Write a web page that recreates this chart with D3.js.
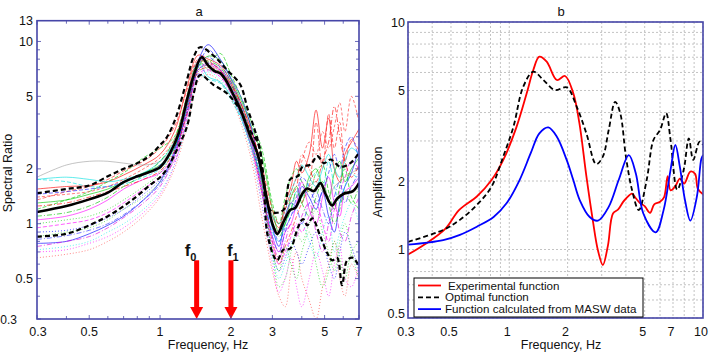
<!DOCTYPE html>
<html><head><meta charset="utf-8">
<script src="https://cdn.jsdelivr.net/npm/d3@7"></script>
<style>
body{margin:0;background:#fff}
svg{display:block}
text{font-family:"Liberation Sans",Arial,sans-serif;fill:#111}
</style>
</head><body>
<svg id="c" width="720" height="359"></svg>
<script>
// ---------------- Panel a data ----------------
const aYLabels = [0.3, 0.5, 1, 2, 5, 10, 13];
const aXLabels = [0.3, 0.5, 1, 2, 3, 5, 7];
const gridA = [0.3,0.4,0.5,0.6,0.7,0.85,1.0,1.15,1.3,1.45,1.6,1.8,2.0,2.2,2.45,2.7,3.0,3.2,3.4,3.6,3.8,4.0,4.3,4.6,4.9,5.2,5.5,5.8,6.1,6.5,7.0];
const c1  = [1.55,1.6,1.62,1.7,1.85,2.1,2.4,3.2,5.6,8.4,8.0,7.4,6.0,4.6,3.2,2.0,1.1,0.95,1.3,1.6,2.2,1.9,2.4,4.2,2.6,3.8,2.0,1.7,2.4,2.8,3.3];
const c2  = [1.3,1.35,1.45,1.55,1.7,1.9,2.1,2.6,4.4,7.2,8.3,7.9,6.2,4.8,3.4,2.4,1.2,0.9,1.0,1.4,1.6,1.3,1.8,2.0,1.6,1.4,1.9,2.2,1.7,2.0,2.3];
const c3  = [0.78,0.8,0.88,0.98,1.1,1.35,1.7,2.5,4.6,7.8,9.6,8.0,6.3,5.0,3.3,1.8,0.95,0.75,1.1,1.3,1.25,1.6,1.4,1.2,1.5,1.1,0.9,1.3,1.6,1.9,2.6];
const c4  = [1.05,1.1,1.2,1.35,1.55,1.75,1.9,2.4,4.2,7.0,7.4,6.9,5.6,4.2,2.8,1.6,0.85,0.7,0.9,1.0,1.3,1.7,1.2,1.0,1.4,1.8,1.3,1.1,1.5,1.6,1.8];
const c5  = [1.75,1.7,1.6,1.6,1.65,1.8,2.0,2.6,4.2,6.6,6.2,5.9,4.8,3.8,2.6,1.7,0.9,0.8,1.0,1.2,1.5,1.4,1.7,1.9,1.6,2.2,1.6,1.3,1.6,1.9,1.7];
const c6  = [1.35,1.5,1.6,1.75,1.95,2.2,2.6,3.4,5.4,8.0,7.8,7.0,5.4,4.0,2.6,1.5,0.8,0.6,0.75,0.9,1.1,1.3,1.6,3.6,2.0,4.0,2.6,3.6,2.2,2.9,2.5];
const c7  = [1.2,1.35,1.5,1.7,1.9,2.3,2.6,3.0,4.8,7.4,7.6,8.6,6.6,5.0,3.6,2.6,1.3,1.0,1.4,1.8,2.0,1.7,1.5,1.9,2.1,1.5,1.2,1.6,2.0,1.4,1.2];
const c8  = [1.45,1.5,1.55,1.6,1.7,1.85,2.1,2.6,4.0,7.2,9.0,7.6,6.0,4.6,3.0,1.9,1.0,0.8,0.95,1.1,1.4,1.8,1.6,1.3,1.5,1.9,2.4,2.0,2.6,3.0,2.2];
const c9  = [0.95,1.0,1.05,1.15,1.3,1.55,1.8,2.2,3.8,6.6,7.0,6.4,5.2,4.0,2.6,1.5,0.75,0.6,0.7,0.85,1.0,0.9,1.1,1.3,1.0,0.8,1.2,1.5,1.8,2.2,2.0];
const c10 = [0.72,0.75,0.8,0.9,1.0,1.2,1.5,2.1,3.6,6.2,6.8,6.2,5.0,3.8,2.4,1.3,0.65,0.5,0.6,0.75,0.9,1.0,0.8,0.65,0.9,1.1,0.7,0.9,1.1,1.3,1.0];
const c11 = [0.65,0.68,0.72,0.8,0.9,1.1,1.4,2.0,3.4,6.0,6.6,6.0,4.9,3.6,2.2,1.1,0.55,0.4,0.35,0.55,0.7,0.5,0.38,0.3,0.45,0.6,0.8,0.5,0.4,0.6,0.5];
const c12 = [0.85,0.9,0.95,1.05,1.2,1.4,1.7,2.3,4.0,6.8,7.2,6.6,5.4,4.2,2.8,1.6,0.7,0.45,0.5,0.7,0.9,0.8,1.0,1.2,0.9,0.7,0.55,0.8,1.0,0.7,0.5];
const c13 = [0.75,0.8,0.85,0.95,1.08,1.3,1.6,2.3,4.3,7.0,7.6,7.0,5.6,4.3,2.8,1.6,0.8,0.65,0.8,1.0,0.85,1.1,1.3,0.9,0.7,1.0,1.3,0.9,0.8,1.1,1.4];
const c14 = [0.82,0.86,0.92,1.0,1.12,1.35,1.65,2.4,4.5,7.4,8.2,7.2,5.8,4.4,2.9,1.7,0.85,0.7,0.9,1.1,1.2,1.0,1.3,1.5,1.2,1.0,1.4,1.7,1.3,1.6,1.9];
const c15 = [1.8,2.1,2.2,2.2,2.15,2.1,2.2,2.7,4.6,7.8,7.0,6.6,5.2,4.0,2.7,1.7,1.0,0.9,1.1,1.3,1.4,1.5,1.6,1.7,1.5,1.4,1.6,1.7,1.8,1.9,2.0];
const c16 = [1.75,1.8,1.75,1.7,1.75,1.9,2.2,2.8,4.8,7.6,6.4,6.0,5.0,3.9,2.6,1.8,1.1,1.0,1.2,1.5,1.8,2.1,1.8,1.6,2.0,2.4,2.0,1.8,2.2,2.6,2.4];
const c17 = [1.25,1.3,1.4,1.5,1.6,1.75,1.95,2.5,4.0,6.8,7.2,6.8,5.8,4.6,3.2,2.1,1.2,1.0,1.2,1.4,1.6,2.4,2.0,1.7,2.2,2.8,4.4,3.0,2.2,1.8,2.1];
const c18 = [1.1,1.15,1.25,1.4,1.6,1.85,2.2,2.9,5.0,7.6,7.8,7.2,5.8,4.4,3.0,1.9,1.0,0.85,1.0,1.2,1.5,1.3,1.1,1.4,1.7,1.3,1.0,1.2,1.5,1.3,1.6];
const c19 = [0.7,0.72,0.78,0.85,0.95,1.15,1.45,2.1,3.9,6.4,6.9,6.4,5.2,3.9,2.5,1.3,0.6,0.42,0.5,0.65,0.45,0.35,0.5,0.7,0.55,0.4,0.6,0.75,0.5,0.45,0.6];
const c20 = [1.0,1.05,1.1,1.2,1.35,1.6,1.9,2.6,4.4,7.0,7.4,6.8,5.6,4.4,3.0,1.7,0.7,0.55,0.75,0.6,0.5,0.7,0.9,0.6,0.45,0.55,0.8,0.65,0.5,0.7,0.8];
const c21 = [1.4,1.45,1.5,1.6,1.75,2.0,2.3,2.9,5.0,7.8,7.6,7.0,5.8,4.4,3.0,1.9,1.0,0.9,1.2,1.5,1.8,2.2,2.8,2.4,3.2,2.6,3.4,4.6,3.2,5.0,3.6];
const c22 = [0.9,0.92,0.98,1.08,1.2,1.45,1.75,2.4,4.2,6.9,7.6,7.0,5.6,4.3,2.8,1.5,0.7,0.55,0.65,0.8,0.7,0.6,0.75,0.9,0.8,0.6,0.5,0.7,0.9,0.75,0.55];
const thinCurves = [c1,c2,c3,c4,c5,c6,c7,c8,c9,c10,c11,c12,c13,c14,c15,c16,c17,c18,c19,c20,c21,c22];

const meanF = [0.3,0.4,0.5,0.6,0.7,0.8,0.9,1.0,1.1,1.2,1.3,1.4,1.5,1.6,1.7,1.8,1.9,2.0,2.2,2.4,2.6,2.8,3.0,3.15,3.34,3.57,3.75,4.02,4.22,4.5,4.8,5.04,5.38,5.65,6.03,6.6,7.0];
const meanV = [1.16,1.25,1.36,1.48,1.69,1.82,1.92,2.04,2.43,3.14,4.77,6.7,8.2,7.4,6.9,6.7,6.14,5.42,4.2,3.1,2.4,1.5,1.0,0.88,1.02,1.19,1.22,1.46,1.56,1.51,1.67,1.46,1.26,1.37,1.46,1.51,1.67];
const upperF = [0.3,0.4,0.5,0.6,0.7,0.8,0.9,1.0,1.07,1.17,1.3,1.39,1.48,1.68,1.92,2.19,2.35,2.5,2.65,2.74,2.99,3.34,3.57,3.86,4.02,4.36,4.66,4.97,5.3,5.84,6.43,7.0];
const upperV = [1.47,1.55,1.62,1.82,2.0,2.15,2.35,2.7,2.99,3.86,6.14,8.25,9.3,8.4,7.0,5.8,4.3,3.4,2.6,1.8,1.16,1.19,1.75,1.83,2.05,2.11,2.35,2.15,2.25,2.05,2.15,2.45];
const lowerF = [0.3,0.4,0.5,0.6,0.7,0.8,0.9,1.0,1.07,1.14,1.3,1.39,1.48,1.68,1.92,2.19,2.35,2.6,2.74,2.87,3.14,3.34,3.57,3.86,4.05,4.22,4.43,4.8,5.13,5.38,5.65,5.93,6.23,6.6,7.0];
const lowerV = [0.85,0.88,0.98,1.1,1.25,1.42,1.62,1.8,2.0,2.33,3.4,5.19,6.54,5.8,5.2,4.2,3.4,2.78,1.9,0.85,0.63,0.72,0.73,0.96,1.06,0.98,1.07,0.85,0.69,0.63,0.65,0.46,0.63,0.65,0.58];

const arrowFreqs = [1.43, 2.0];
const arrowNames = ["0", "1"];
const arrowTopValue = 0.63;

// ---------------- Panel b data ----------------
const bYLabels = [0.5, 1, 2, 5, 10];
const bXLabels = [0.3, 0.5, 1, 2, 5, 7, 10];
const expF = [0.3,0.37,0.47,0.55,0.68,0.81,0.93,1.09,1.23,1.33,1.43,1.56,1.76,1.94,2.14,2.3,2.5,2.7,2.87,3.04,3.23,3.43,3.65,3.87,4.02,4.3,4.5,4.73,5.0,5.33,5.6,6.0,6.3,6.57,6.8,7.2,7.6,8.0,8.6,9.1,9.4,10];
const expV = [0.95,1.06,1.24,1.49,1.71,2.02,2.47,3.46,4.86,6.15,7.04,6.69,5.56,5.79,4.86,3.6,2.1,1.34,0.99,0.855,1.04,1.44,1.5,1.62,1.68,1.76,1.68,1.6,1.55,1.45,1.58,1.62,1.7,2.1,1.82,1.9,2.05,1.95,2.2,2.15,1.85,1.75];
const optF = [0.3,0.456,0.556,0.68,0.81,0.93,1.05,1.18,1.33,1.5,1.72,1.98,2.23,2.5,2.81,3.04,3.26,3.52,3.74,4.0,4.3,4.66,5.12,5.55,6.0,6.45,6.8,7.36,7.95,8.45,8.9,9.6,10];
const optV = [1.08,1.22,1.35,1.57,1.89,2.56,3.46,5.19,6.05,5.56,5.02,5.16,4.24,3.24,2.37,2.56,3.35,4.46,3.97,2.56,1.83,1.49,2.02,3.03,3.35,3.97,3.03,1.83,2.24,3.08,2.48,2.98,2.88];
const maswF = [0.3,0.456,0.556,0.68,0.83,0.97,1.13,1.29,1.43,1.59,1.76,1.98,2.14,2.31,2.6,2.87,3.26,3.67,4.14,4.5,4.92,5.7,6.26,6.8,7.2,7.6,8.07,8.6,9.3,9.8,10];
const maswV = [1.05,1.1,1.16,1.26,1.39,1.6,2.02,2.65,3.24,3.44,3.13,2.47,2.02,1.65,1.39,1.34,1.54,2.02,2.6,2.16,1.44,1.19,1.49,2.24,2.88,2.3,1.65,1.34,1.71,2.5,2.6];
const legendNames = ["Experimental function", "Optimal function", "Function calculated from MASW data"];

// ---------------- drawing ----------------
const svg = d3.select("#c");
const frameColor = "#4646a8";

function minorTicks(lo, hi) {
  const out = [];
  for (let d = Math.pow(10, Math.floor(Math.log10(lo))); d <= hi; d *= 10) {
    for (let k = 1; k <= 9; k++) {
      const v = +(k * d).toPrecision(6);
      if (v >= lo - 1e-9 && v <= hi + 1e-9) out.push(v);
    }
  }
  return out;
}
const fmt = v => String(v);

// Panel a
const xa = d3.scaleLog().domain([0.3, 7]).range([37, 359]);
const ya = d3.scaleLog().domain([0.3, 13]).range([319, 20.7]);
const ga = svg.append("g");
ga.append("clipPath").attr("id", "clipA").append("rect")
  .attr("x", xa.range()[0]).attr("y", ya.range()[1])
  .attr("width", xa.range()[1] - xa.range()[0]).attr("height", ya.range()[0] - ya.range()[1]);

const colorsA = ["#ff0000","#00c800","#0000ff","#ff00ff","#00e0e0","#ff2020","#00cc00","#2020ff","#ff00ff","#00e8e8","#ff4040","#20d020","#e000e0","#3030ff","#a0a0a0","#00e0e0","#ff0000","#00c000","#ff00ff","#00d000","#ff3030","#0000ff"];
const dashA = [null,null,null,null,"4,2","4,2","4,2","4,2","4,2","1,2","1,2","1,2","5,2,1,2","5,2,1,2",null,null,"5,2,1,2","5,2,1,2","1,2","1,2","3,2","1,2"];
const lineA = d3.line().x(d => xa(d[0])).y(d => ya(d[1])).curve(d3.curveCatmullRom.alpha(0.5));
const plotA = ga.append("g").attr("clip-path", "url(#clipA)");
thinCurves.forEach((c, i) => {
  plotA.append("path").datum(gridA.map((f, j) => [f, c[j]]))
    .attr("d", lineA).attr("fill", "none").attr("stroke", colorsA[i])
    .attr("stroke-width", 0.9).attr("stroke-opacity", 0.7)
    .attr("stroke-dasharray", dashA[i]);
});
plotA.append("path").datum(upperF.map((f, j) => [f, upperV[j]])).attr("d", lineA)
  .attr("fill", "none").attr("stroke", "#000").attr("stroke-width", 2.2).attr("stroke-dasharray", "5,3");
plotA.append("path").datum(lowerF.map((f, j) => [f, lowerV[j]])).attr("d", lineA)
  .attr("fill", "none").attr("stroke", "#000").attr("stroke-width", 2.2).attr("stroke-dasharray", "5,3");
plotA.append("path").datum(meanF.map((f, j) => [f, meanV[j]])).attr("d", lineA)
  .attr("fill", "none").attr("stroke", "#000").attr("stroke-width", 2.6);

// arrows
arrowFreqs.forEach((f, i) => {
  const cx = xa(f), top = ya(arrowTopValue), tip = ya.range()[0];
  ga.append("rect").attr("x", cx - 2.5).attr("y", top).attr("width", 5).attr("height", tip - top - 11).attr("fill", "#ff0000");
  ga.append("path").attr("d", `M${cx - 6.5},${tip - 12}L${cx + 6.5},${tip - 12}L${cx},${tip}Z`).attr("fill", "#ff0000");
  const t = ga.append("text").attr("x", cx - (i === 0 ? 12 : 4)).attr("y", top - 4)
    .attr("font-size", 17).attr("font-weight", "bold");
  t.append("tspan").text("f");
  t.append("tspan").attr("dy", 5).attr("font-size", 11).text(arrowNames[i]);
});

function frameTicks(g, x, y, xt, yt, xLabels, yLabels) {
  const [x0, x1] = x.range(), [y0, y1] = [y.range()[1], y.range()[0]];
  xt.forEach(v => {
    const L = xLabels.includes(v) ? 4 : 3;
    g.append("line").attr("x1", x(v)).attr("x2", x(v)).attr("y1", y1).attr("y2", y1 - L).attr("stroke", frameColor).attr("stroke-width", 0.8);
    g.append("line").attr("x1", x(v)).attr("x2", x(v)).attr("y1", y0).attr("y2", y0 + L).attr("stroke", frameColor).attr("stroke-width", 0.8);
  });
  yt.forEach(v => {
    const L = yLabels.includes(v) ? 4 : 3;
    g.append("line").attr("y1", y(v)).attr("y2", y(v)).attr("x1", x0).attr("x2", x0 + L).attr("stroke", frameColor).attr("stroke-width", 0.8);
    g.append("line").attr("y1", y(v)).attr("y2", y(v)).attr("x1", x1).attr("x2", x1 - L).attr("stroke", frameColor).attr("stroke-width", 0.8);
  });
  g.append("rect").attr("x", x0).attr("y", y0).attr("width", x1 - x0).attr("height", y1 - y0)
    .attr("fill", "none").attr("stroke", frameColor).attr("stroke-width", 1.6);
}
const aXT = minorTicks(0.3, 7), aYT = minorTicks(0.3, 10);
frameTicks(ga, xa, ya, aXT, aYT, aXLabels, aYLabels);

// axis labels a
ga.selectAll(".xl").data(aXLabels).enter().append("text")
  .attr("x", d => xa(d) + (d === 0.3 ? 1 : 0)).attr("y", 336).attr("text-anchor", "middle").attr("font-size", 12.5).text(fmt);
ga.selectAll(".yl").data(aYLabels).enter().append("text")
  .attr("x", d => d === 0.3 ? 17 : 33).attr("y", d => ya(d) + 4.5).attr("text-anchor", "end").attr("font-size", d => d === 0.3 ? 12 : 12.5).text(fmt);
ga.append("text").attr("x", 208).attr("y", 349).attr("text-anchor", "middle").attr("font-size", 12.5).text("Frequency, Hz");
ga.append("text").attr("transform", "translate(12,173) rotate(-90)").attr("text-anchor", "middle").attr("font-size", 12.5).text("Spectral Ratio");
ga.append("text").attr("x", 199).attr("y", 16).attr("text-anchor", "middle").attr("font-size", 13).text("a");

// Panel b
const xb = d3.scaleLog().domain([0.3, 10]).range([408, 703]);
const yb = d3.scaleLog().domain([0.5, 10]).range([318, 22]);
const gb = svg.append("g");
gb.append("clipPath").attr("id", "clipB").append("rect")
  .attr("x", 408).attr("y", 22).attr("width", 295).attr("height", 296);
const bXT = minorTicks(0.3, 10), bYT = minorTicks(0.5, 10);
const gridG = gb.append("g");
bXT.forEach(v => gridG.append("line").attr("x1", xb(v)).attr("x2", xb(v)).attr("y1", yb.range()[1]).attr("y2", yb.range()[0])
  .attr("stroke", "#b4b4b4").attr("stroke-width", 0.8).attr("stroke-dasharray", "2,2"));
bYT.forEach(v => gridG.append("line").attr("y1", yb(v)).attr("y2", yb(v)).attr("x1", xb.range()[0]).attr("x2", xb.range()[1])
  .attr("stroke", "#b4b4b4").attr("stroke-width", 0.8).attr("stroke-dasharray", "2,2"));

const lineB = d3.line().x(d => xb(d[0])).y(d => yb(d[1])).curve(d3.curveCatmullRom.alpha(0.5));
const plotB = gb.append("g").attr("clip-path", "url(#clipB)");
const seriesB = [
  {f: expF, v: expV, color: "#ff0000", dash: null},
  {f: optF, v: optV, color: "#000000", dash: "5,3"},
  {f: maswF, v: maswV, color: "#0000ff", dash: null}
];
seriesB.forEach(s => {
  plotB.append("path").datum(s.f.map((f, j) => [f, s.v[j]])).attr("d", lineB)
    .attr("fill", "none").attr("stroke", s.color).attr("stroke-width", 1.8).attr("stroke-dasharray", s.dash);
});
frameTicks(gb, xb, yb, [], [], bXLabels, bYLabels);

// legend
const lg = gb.append("g");
lg.append("rect").attr("x", 414).attr("y", 278).attr("width", 229).attr("height", 39)
  .attr("fill", "#fff").attr("stroke", "#000").attr("stroke-width", 1);
legendNames.forEach((n, i) => {
  const yy = 285.5 + i * 11.8;
  lg.append("line").attr("x1", 418).attr("x2", 441).attr("y1", yy).attr("y2", yy)
    .attr("stroke", seriesB[i].color).attr("stroke-width", 1.8).attr("stroke-dasharray", seriesB[i].dash);
  lg.append("text").attr("x", i === 0 ? 448 : 445).attr("y", yy + 4).attr("font-size", 11.6).text(n);
});

gb.selectAll(".xl").data(bXLabels).enter().append("text")
  .attr("x", d => xb(d) - 2).attr("y", 336).attr("text-anchor", "middle").attr("font-size", 12.5).text(fmt);
gb.selectAll(".yl").data(bYLabels).enter().append("text")
  .attr("x", 405).attr("y", d => yb(d) + 4.5 - (d === 0.5 ? 5 : 0)).attr("text-anchor", "end").attr("font-size", 12.5).text(fmt);
gb.append("text").attr("x", 561).attr("y", 349).attr("text-anchor", "middle").attr("font-size", 12.5).text("Frequency, Hz");
gb.append("text").attr("transform", "translate(382,182) rotate(-90)").attr("text-anchor", "middle").attr("font-size", 12.5).text("Amplification");
gb.append("text").attr("x", 561).attr("y", 16).attr("text-anchor", "middle").attr("font-size", 13).text("b");
</script>
</body></html>
